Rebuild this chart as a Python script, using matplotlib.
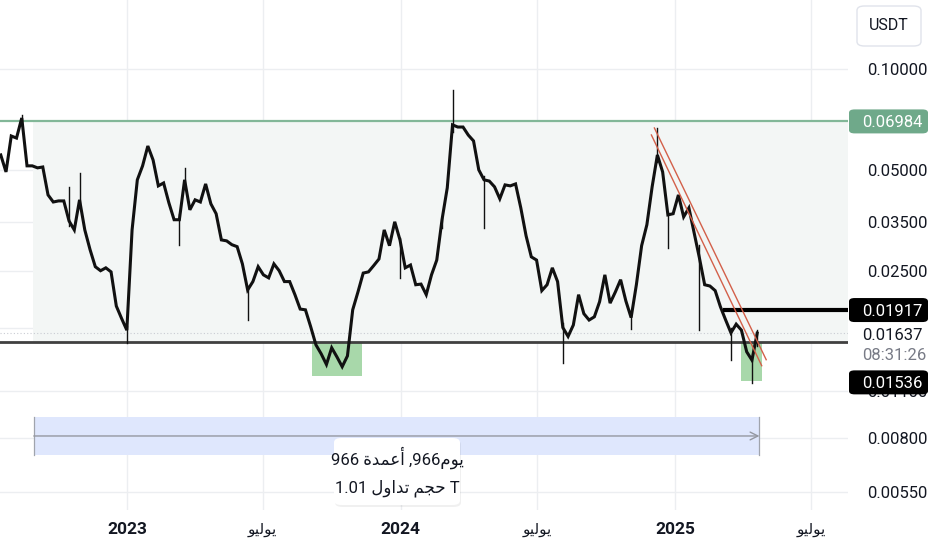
import matplotlib
matplotlib.use("Agg")
import matplotlib.pyplot as plt
import matplotlib.dates as mdates
from matplotlib.patches import Rectangle, FancyBboxPatch
from matplotlib.ticker import NullLocator
from matplotlib import font_manager
import pandas as pd

# ---------------- data ----------------
start_date = "2022-07-17"   # weekly closes (USDT)
close = [
    0.0555, 0.0494, 0.0632, 0.0623, 0.0715, 0.0515, 0.0515, 0.0508, 0.0511, 0.0422,
    0.0402, 0.0405, 0.0405, 0.0353, 0.0332, 0.0408, 0.0332, 0.0290, 0.0258, 0.0251,
    0.0256, 0.0249, 0.0197, 0.0181, 0.0167, 0.0332, 0.0468, 0.0515, 0.0590, 0.0536,
    0.0449, 0.0458, 0.0400, 0.0356, 0.0356, 0.0468, 0.0381, 0.0408, 0.0402, 0.0455,
    0.0397, 0.0371, 0.0310, 0.0308, 0.0300, 0.0296, 0.0263, 0.0220, 0.0233, 0.0258,
    0.0244, 0.0239, 0.0263, 0.0251, 0.0233, 0.0233, 0.0213, 0.0193, 0.0192, 0.0171,
    0.0151, 0.0142, 0.0132, 0.0148, 0.0139, 0.0130, 0.0140, 0.0192, 0.0217, 0.0247,
    0.0249, 0.0260, 0.0272, 0.0332, 0.0298, 0.0351, 0.0310, 0.0256, 0.0261, 0.0228,
    0.0229, 0.0213, 0.0244, 0.0270, 0.0356, 0.0443, 0.0682, 0.0672, 0.0672, 0.0636,
    0.0611, 0.0501, 0.0468, 0.0464, 0.0446, 0.0411, 0.0452, 0.0449, 0.0455, 0.0386,
    0.0319, 0.0276, 0.0270, 0.0219, 0.0228, 0.0256, 0.0233, 0.0170, 0.0160, 0.0173,
    0.0213, 0.0187, 0.0179, 0.0183, 0.0203, 0.0244, 0.0201, 0.0217, 0.0236, 0.0204,
    0.0182, 0.0228, 0.0298, 0.0344, 0.0446, 0.0555, 0.0494, 0.0368, 0.0371, 0.0422,
    0.0363, 0.0386, 0.0325, 0.0274, 0.0228, 0.0226, 0.0219, 0.0196, 0.0179, 0.0164,
    0.0174, 0.0167, 0.0144, 0.0136, 0.01637,
]
# notable wicks: week index, low, high
wick_week = [4, 13, 15, 24, 34, 35, 47, 76, 84, 86, 92, 107, 120, 125, 127, 133, 139, 143, 144]
wick_low = [0.0690, 0.0340, 0.0390, 0.01532, 0.0300, 0.0440, 0.01793, 0.0239, 0.0336, 0.0650, 0.0336,
            0.01336, 0.0168, 0.0530, 0.0294, 0.0167, 0.01364, 0.01165, 0.0150]
wick_high = [0.0730, 0.0444, 0.0490, 0.0172, 0.0370, 0.0508, 0.0225, 0.0315, 0.0360, 0.0866, 0.0480,
             0.0175, 0.0185, 0.0668, 0.0375, 0.0300, 0.0170, 0.0140, 0.01674]

range_top = 0.06984
range_bottom = 0.01536
range_start = "2022-08-29"
resistance = 0.01917
resistance_start = "2025-03-05"
last_price = 0.01637
countdown = "08:31:26"

trend_a = (["2024-12-04", "2025-05-02"], [0.06676, 0.01364])
trend_b = (["2024-11-30", "2025-04-26"], [0.06364, 0.01309])

box1 = ("2023-09-05", "2023-11-10", 0.01222, 0.01536)
box2 = ("2025-03-29", "2025-04-27", 0.01181, 0.01536)

measure = ("2022-08-30", "2025-04-23", 0.007099, 0.009211)
bars_count = 966
volume_text = "1.01"

ytick_vals = [0.1, 0.05, 0.035, 0.025, 0.017, 0.011, 0.008, 0.0055]
ytick_labels = ["0.10000", "0.05000", "0.03500", "0.02500", "", "0.01100", "0.00800", "0.00550"]
xtick_dates = ["2023-01-01", "2023-07-01", "2024-01-01", "2024-07-01", "2025-01-01", "2025-07-01"]
xtick_labels = ["2023", "يوليو", "2024", "يوليو", "2025", "يوليو"]
xtick_bold = [True, False, True, False, True, False]

# ---------------- Arabic shaping (presentation forms, visual order) ----------------
FORMS = {
    'ي': ('\ufef1', '\ufef2', '\ufef3', '\ufef4'),
    'و': ('\ufeed', '\ufeee', None, None),
    'ل': ('\ufedd', '\ufede', '\ufedf', '\ufee0'),
    'م': ('\ufee1', '\ufee2', '\ufee3', '\ufee4'),
    'أ': ('\ufe83', '\ufe84', None, None),
    'ع': ('\ufec9', '\ufeca', '\ufecb', '\ufecc'),
    'د': ('\ufea9', '\ufeaa', None, None),
    'ة': ('\ufe93', '\ufe94', None, None),
    'ح': ('\ufea1', '\ufea2', '\ufea3', '\ufea4'),
    'ج': ('\ufe9d', '\ufe9e', '\ufe9f', '\ufea0'),
    'ت': ('\ufe95', '\ufe96', '\ufe97', '\ufe98'),
    'ا': ('\ufe8d', '\ufe8e', None, None),
}


def ar(word):
    if not all(c in FORMS for c in word):
        return word
    out = []
    for i, c in enumerate(word):
        f = FORMS[c]
        prev_j = i > 0 and FORMS[word[i - 1]][2] is not None
        next_j = f[2] is not None and i < len(word) - 1
        if prev_j and next_j:
            out.append(f[3])
        elif prev_j:
            out.append(f[1])
        elif next_j:
            out.append(f[2])
        else:
            out.append(f[0])
    return ''.join(out)[::-1]


names = {f.name for f in font_manager.fontManager.ttflist}
main_font = 'Liberation Sans Narrow' if 'Liberation Sans Narrow' in names else 'Roboto'
FAM = [main_font, 'DejaVu Sans']
plt.rcParams['font.family'] = FAM

TXT = '#131722'
GRID = '#eceef1'

# ---------------- figure ----------------
W, H = 932, 550
fig = plt.figure(figsize=(W / 100, H / 100), dpi=100)
fig.patch.set_facecolor('white')
ax = fig.add_axes([0, 1 - 510 / H, 848 / W, 510 / H])
ax.set_yscale('log')
ax.set_ylim(0.004869, 0.1605)
d = lambda s: mdates.date2num(pd.Timestamp(s))
ax.set_xlim(d("2022-07-16"), d("2025-08-19"))
for s in ax.spines.values():
    s.set_visible(False)

ax.set_axisbelow(True)
ax.grid(True, color=GRID, lw=1)
ax.yaxis.set_minor_locator(NullLocator())
ax.set_yticks(ytick_vals)
ax.set_yticklabels(ytick_labels)
ax.yaxis.tick_right()
ax.tick_params(axis='y', length=0, pad=14, labelsize=12, labelcolor=TXT)
ax.set_xticks([d(s) for s in xtick_dates])
ax.set_xticklabels([ar(t) for t in xtick_labels])
ax.tick_params(axis='x', length=0, pad=9, labelsize=12.5, labelcolor=TXT)
for lab, b in zip(ax.get_xticklabels(), xtick_bold):
    lab.set_fontweight('bold' if b else 'normal')
    if not b:
        lab.set_fontsize(11)

dates = pd.date_range(start_date, periods=len(close), freq="7D")
dn = mdates.date2num(dates)

# range fill and lines
x_right = d("2025-08-19")
ax.add_patch(Rectangle((d(range_start), range_bottom), x_right - d(range_start),
                       range_top - range_bottom, fc='#f3f6f5', ec='none', zorder=1))
ax.axhline(range_top, color='#82b798', lw=1.6, zorder=3)
ax.axhline(range_bottom, color='#404040', lw=2.0, zorder=3)
ax.axhline(last_price, color='#c9ccd3', lw=0.8, ls=(0, (1, 2)), zorder=2)
ax.plot([d(resistance_start), x_right], [resistance, resistance], color='black', lw=3, zorder=5,
        solid_capstyle='butt')

# highlight boxes
for b in (box1, box2):
    ax.add_patch(Rectangle((d(b[0]), b[2]), d(b[1]) - d(b[0]), b[3] - b[2],
                           fc='#a8d8aa', ec='none', zorder=2))

# measure box
m0, m1 = d(measure[0]), d(measure[1])
ax.add_patch(Rectangle((m0, measure[2]), m1 - m0, measure[3] - measure[2],
                       fc='#dfe7fd', ec='none', zorder=1))
ax.plot([m0, m0], [measure[2], measure[3]], color='#a0a4ad', lw=0.9, zorder=2)
ax.plot([m1, m1], [measure[2], measure[3]], color='#a0a4ad', lw=0.9, zorder=2)
mid = (measure[2] * measure[3]) ** 0.5
ax.annotate('', xy=(m1, mid), xytext=(m0, mid),
            arrowprops=dict(arrowstyle='->', color='#9598a1', lw=1, mutation_scale=14,
                            shrinkA=0, shrinkB=0), zorder=2)

# price
ax.plot(dn, close, color='#111111', lw=2.2, zorder=4, solid_joinstyle='miter')
for w, lo, hi in zip(wick_week, wick_low, wick_high):
    ax.plot([dn[w], dn[w]], [lo, hi], color='#111111', lw=1.0, zorder=4)

# trend lines
for t in (trend_a, trend_b):
    ax.plot([d(t[0][0]), d(t[0][1])], t[1], color='#d3604a', lw=1.0, zorder=5)

# ---------------- right price labels ----------------
fig.canvas.draw()


def ypix(v):
    return ax.transData.transform((ax.get_xlim()[0], v))[1]


def price_box(v, text, fc, tc, shift=0):
    yc = ypix(v) - shift
    fig.patches.append(FancyBboxPatch(((849) / W, (yc - 12) / H), 79 / W, 24 / H,
                                      boxstyle='round,pad=0,rounding_size=0.006',
                                      transform=fig.transFigure, fc=fc, ec='none', zorder=5))
    fig.text(862 / W, yc / H, text, color=tc, fontsize=12, ha='left', va='center_baseline', zorder=6)


price_box(range_top, f"{range_top:.5f}", '#6fa98a', 'white')
price_box(resistance, f"{resistance:.5f}", 'black', 'white')
price_box(range_bottom, f"{range_bottom:.5f}", 'black', 'white', shift=40)
yl = ypix(last_price)
fig.patches.append(FancyBboxPatch((849 / W, (yl - 11) / H), 79 / W, 22 / H,
                                  boxstyle='square,pad=0', transform=fig.transFigure,
                                  fc='white', ec='none', zorder=4))
fig.text(862 / W, (yl - 1) / H, f"{last_price:.5f}", color=TXT, fontsize=12, ha='left',
         va='center_baseline', zorder=6)
fig.text(862 / W, (yl - 21) / H, countdown, color='#787b86', fontsize=12, ha='left',
         va='center_baseline', zorder=6)

# USDT box
fig.patches.append(FancyBboxPatch((857 / W, (H - 46) / H), 64 / W, 40 / H,
                                  boxstyle='round,pad=0,rounding_size=0.008',
                                  transform=fig.transFigure, fc='white', ec='#e0e3eb', lw=1, zorder=5))
fig.text(889 / W, (H - 26) / H, "USDT", color=TXT, fontsize=11.5, ha='center', va='center', zorder=6)

# measure info label
bx0, bx1, by0, by1 = 334, 460, 438, 505
fig.patches.append(FancyBboxPatch(((bx0 + 1) / W, (H - by1 - 2) / H), (bx1 - bx0) / W, (by1 - by0) / H,
                                  boxstyle='round,pad=0,rounding_size=0.008',
                                  transform=fig.transFigure, fc='#000000', alpha=0.06, ec='none', zorder=5))
fig.patches.append(FancyBboxPatch((bx0 / W, (H - by1) / H), (bx1 - bx0) / W, (by1 - by0) / H,
                                  boxstyle='round,pad=0,rounding_size=0.008',
                                  transform=fig.transFigure, fc='white', ec='none', zorder=5))
line1 = f"{bars_count} " + ar('أعمدة') + f" ,{bars_count}" + ar('يوم')
line2 = f"{volume_text} " + ar('تداول') + " " + ar('حجم') + " T"
cx = (bx0 + bx1) / 2
fig.text(cx / W, (H - 458) / H, line1, color=TXT, fontsize=12, ha='center', va='center', zorder=6)
fig.text(cx / W, (H - 488) / H, line2, color=TXT, fontsize=12, ha='center', va='center', zorder=6)

fig.savefig("out.png", dpi=100, facecolor='white')
